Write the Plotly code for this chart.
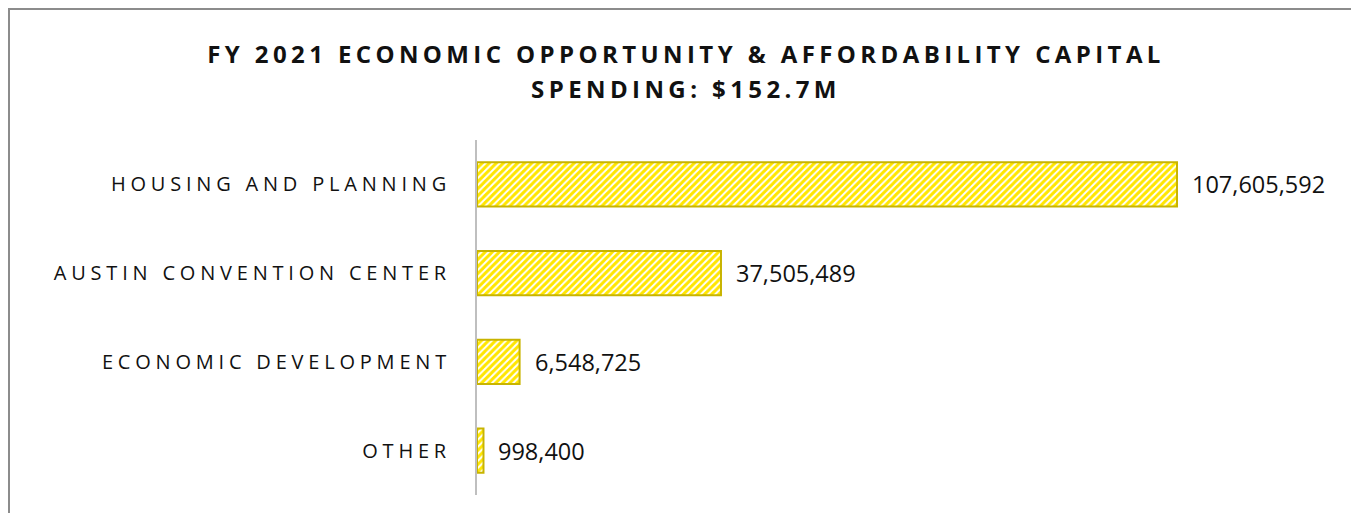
import plotly.graph_objects as go

categories = ["HOUSING AND PLANNING", "AUSTIN CONVENTION CENTER", "ECONOMIC DEVELOPMENT", "OTHER"]
values = [107605592, 37505489, 6548725, 998400]
title_lines = ["FY 2021 ECONOMIC OPPORTUNITY & AFFORDABILITY CAPITAL", "SPENDING: $152.7M"]

OFF = 8  # page body offset
W, H = 1359 - 2 * OFF, 521 - 2 * OFF
# plot area in screen coords: x 477..1340, y 140..495
L, T = 477 - OFF, 140 - OFF
R, B = W - (1340 - OFF), H - (495 - OFF)
pw, ph = W - L - R, H - T - B

def spaced(s, ls, size=None):
    st = f"letter-spacing:{ls}px"
    if size:
        st += f";font-size:{size}px"
    return f'<span style="{st}">{s}</span>'

fig = go.Figure()
fig.add_trace(go.Bar(
    x=values, y=categories, orientation="h", width=0.5,
    marker=dict(
        color="#FFE600",
        line=dict(color="#C8B400", width=2),
        pattern=dict(shape="/", fgcolor="#FFE600", fgopacity=1, bgcolor="white",
                     size=5, solidity=0.6, fillmode="replace"),
    ),
    hoverinfo="skip",
))

for c, v in zip(categories, values):
    fig.add_annotation(x=v, y=c, xref="x", yref="y", text=f"{v:,}", showarrow=False,
                       xanchor="left", xshift=13, font=dict(family="Open Sans", size=23.5, color="#111"))

title_text = "<br>".join(spaced(t, 4.4, 24) for t in title_lines)

xmax = values[0] * pw / 700.0

fig.update_layout(
    width=W, height=H,
    margin=dict(l=L, r=R, t=T, b=B),
    paper_bgcolor="white", plot_bgcolor="white",
    showlegend=False,
    title=dict(text=title_text, x=(686 - OFF) / W, xanchor="center", xref="container",
               y=1 - (63 - OFF) / H, yanchor="middle", yref="container",
               font=dict(family="Open Sans", size=27, color="#111", weight="bold")),
    xaxis=dict(range=[0, xmax], visible=False, fixedrange=True),
    yaxis=dict(categoryorder="array", categoryarray=categories, autorange="reversed",
               showline=True, linecolor="#BFBFBF", linewidth=2, showgrid=False,
               ticks="", tickmode="array", tickvals=categories,
               ticktext=[spaced(c, 4.8) for c in categories],
               ticklabelstandoff=20,
               tickfont=dict(family="Open Sans", size=20, color="#111")),
    shapes=[dict(type="rect", xref="paper", yref="paper",
                 x0=(1 - L) / pw, x1=(1450 - L) / pw,
                 y0=(H - B - 560) / ph, y1=(H - B - 1) / ph,
                 line=dict(color="#8C8C8C", width=2), fillcolor="rgba(0,0,0,0)", layer="below")],
)

fig.write_html("out.html")
